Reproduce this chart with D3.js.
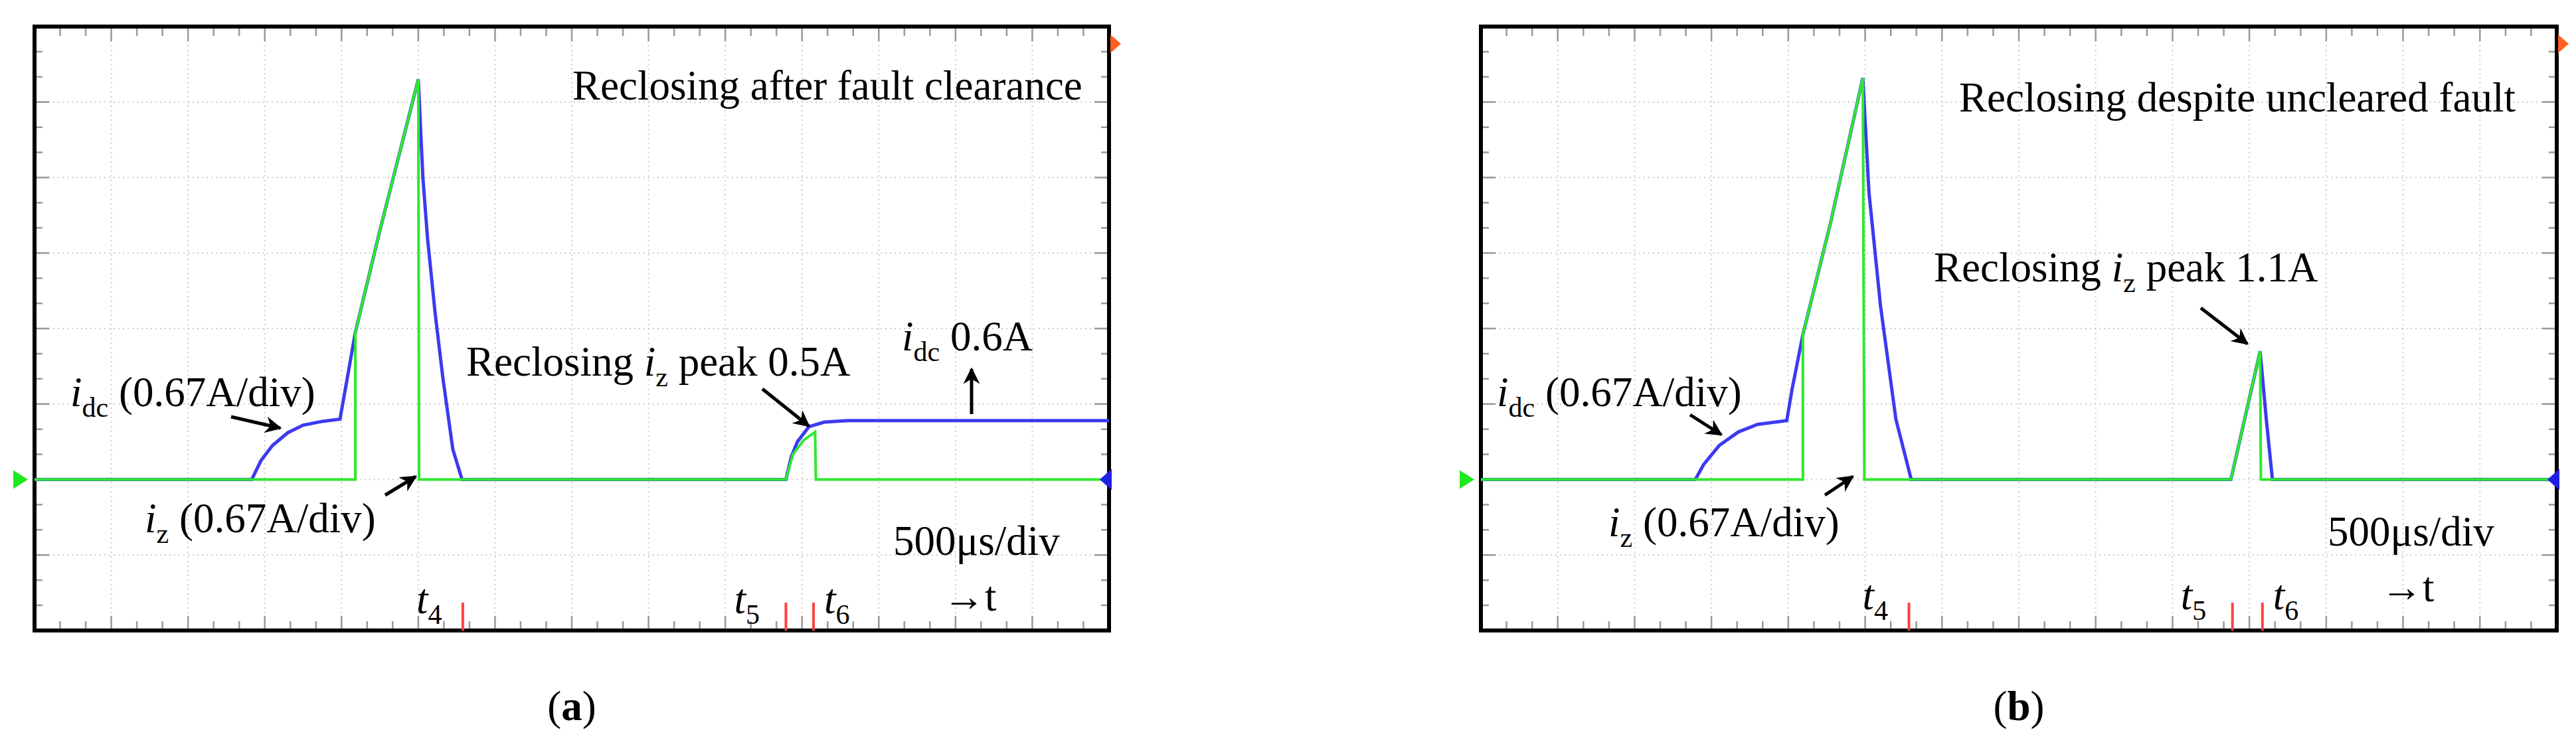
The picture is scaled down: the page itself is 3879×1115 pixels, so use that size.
<!DOCTYPE html>
<html><head><meta charset="utf-8">
<script src="https://cdn.jsdelivr.net/npm/d3@7/dist/d3.min.js"></script>
<style>body{margin:0;background:#fff}svg{display:block}text{font-family:"Liberation Serif","Times New Roman",serif;fill:#000}</style>
</head><body>
<svg id="c" width="3879" height="1115"></svg>
<script>
// time in divisions (500us/div), value in divisions (0.67A/div)
const idcA = [[0,0],[2.83,0],[2.95,0.25],[3.1,0.45],[3.3,0.62],[3.5,0.72],[3.75,0.77],[3.98,0.8],[4.05,1.2],[4.18,1.95],[4.5,3.3],[5.0,5.3],[5.06,4.0],[5.12,3.2],[5.22,2.2],[5.32,1.35],[5.45,0.4],[5.57,0],[9.79,0],[9.86,0.3],[9.94,0.5],[10.09,0.7],[10.29,0.76],[10.6,0.78],[14,0.78]];
const izA  = [[0,0],[4.18,0],[4.18,1.95],[4.5,3.3],[5.0,5.3],[5.01,0],[9.79,0],[9.88,0.33],[10.02,0.52],[10.17,0.63],[10.18,0],[14,0]];
const idcB = [[0,0],[2.79,0],[2.9,0.2],[3.1,0.45],[3.35,0.63],[3.6,0.73],[3.98,0.78],[4.05,1.2],[4.19,1.92],[4.55,3.4],[4.97,5.32],[5.05,3.8],[5.2,2.3],[5.4,0.8],[5.6,0],[9.76,0],[10.14,1.7],[10.22,0.8],[10.3,0],[14,0]];
const izB  = [[0,0],[4.19,0],[4.19,1.92],[4.55,3.4],[4.97,5.32],[4.99,0],[9.76,0],[10.14,1.7],[10.15,0],[14,0]];
const markersA = [5.58, 9.79, 10.15];
const markersB = [5.57, 9.78, 10.17];
const markerLabels = ["4","5","6"];
const titles = ["Reclosing after fault clearance","Reclosing despite uncleared fault"];
const peakLabels = ["0.5A","1.1A"];
const panelLabels = ["a","b"];

const svg = d3.select("#c");
svg.append("defs").append("marker").attr("id","ah").attr("viewBox","0 0 10 10").attr("refX",9).attr("refY",5)
   .attr("markerWidth",5).attr("markerHeight",5).attr("orient","auto")
   .append("path").attr("d","M0,0L10,5L0,10L3,5z").attr("fill","#000");

function panel(cfg){
  const x = d3.scaleLinear().domain([0,14]).range([cfg.left,cfg.right]);
  const y = d3.scaleLinear().domain([-2,6]).range([950,40]);
  const g = svg.append("g");
  for(let i=1;i<14;i++) g.append("line").attr("x1",x(i)).attr("x2",x(i)).attr("y1",y(6)).attr("y2",y(-2)).attr("stroke","#ccc").attr("stroke-width",2).attr("stroke-dasharray","2,5");
  for(let j=-1;j<6;j++) g.append("line").attr("x1",x(0)).attr("x2",x(14)).attr("y1",y(j)).attr("y2",y(j)).attr("stroke","#ccc").attr("stroke-width",2).attr("stroke-dasharray","2,5");
  for(let k=1;k<42;k++){const t=k/3, L=(k%3==0)?22:14;
    g.append("line").attr("x1",x(t)).attr("x2",x(t)).attr("y1",y(6)).attr("y2",y(6)+L).attr("stroke","#999").attr("stroke-width",2.5);
    g.append("line").attr("x1",x(t)).attr("x2",x(t)).attr("y1",y(-2)).attr("y2",y(-2)-L).attr("stroke","#999").attr("stroke-width",2.5);}
  for(let k=1;k<24;k++){const v=-2+k/3, L=(k%3==0)?22:12;
    g.append("line").attr("y1",y(v)).attr("y2",y(v)).attr("x1",x(0)).attr("x2",x(0)+L).attr("stroke","#999").attr("stroke-width",2.5);
    g.append("line").attr("y1",y(v)).attr("y2",y(v)).attr("x1",x(14)).attr("x2",x(14)-L).attr("stroke","#999").attr("stroke-width",2.5);}
  g.append("rect").attr("x",x(0)).attr("y",y(6)).attr("width",x(14)-x(0)).attr("height",y(-2)-y(6)).attr("fill","none").attr("stroke","#000").attr("stroke-width",6);
  const line = d3.line().x(d=>x(d[0])).y(d=>y(d[1]));
  g.append("path").attr("d",line(cfg.idc)).attr("fill","none").attr("stroke","#3b3bf0").attr("stroke-width",5);
  g.append("path").attr("d",line(cfg.iz)).attr("fill","none").attr("stroke","#2ee82e").attr("stroke-width",4);
  cfg.markers.forEach(m=>g.append("line").attr("x1",x(m)).attr("x2",x(m)).attr("y1",y(-2)).attr("y2",y(-2)-42).attr("stroke","#ff4040").attr("stroke-width",4));
  const y0=y(0);
  g.append("path").attr("d",`M${x(0)-32},${y0-14}L${x(0)-10},${y0}L${x(0)-32},${y0+14}z`).attr("fill","#1ee81e");
  g.append("path").attr("d",`M${x(14)+4},${y0-16}L${x(14)-14},${y0}L${x(14)+4},${y0+16}z`).attr("fill","#2020e0");
  g.append("path").attr("d",`M${x(14)+2},${y(6)+12}L${x(14)+18},${y(6)+26}L${x(14)+2},${y(6)+40}z`).attr("fill","#ff6020");
  const T=cfg.text, fs=63, sub=42;
  function lab(px,py,parts,anchor){
    const t=g.append("text").attr("x",px).attr("y",py).attr("font-size",fs);
    if(anchor) t.attr("text-anchor",anchor);
    parts.forEach(p=>{const s=t.append("tspan").text(p[0]);
      if(p[1]=="i") s.attr("font-style","italic");
      if(p[1]=="bold") s.attr("font-weight","bold");
      if(p[1]=="sub") s.attr("font-size",sub).attr("dy",16);
      if(p[1]=="back") s.attr("dy",-16);});
  }
  function arrow(x1,y1,x2,y2){g.append("line").attr("x1",x1).attr("y1",y1).attr("x2",x2).attr("y2",y2).attr("stroke","#000").attr("stroke-width",5).attr("marker-end","url(#ah)");}
  lab(T.title[0],T.title[1],[[cfg.title]]);
  lab(T.idc[0],T.idc[1],[["i","i"],["dc","sub"],[" (0.67A/div)","back"]]);
  arrow(...T.idcA);
  lab(T.iz[0],T.iz[1],[["i","i"],["z","sub"],[" (0.67A/div)","back"]]);
  arrow(...T.izA);
  lab(T.peak[0],T.peak[1],[["Reclosing "],["i","i"],["z","sub"],[" peak "+cfg.peak,"back"]]);
  arrow(...T.peakA);
  if(T.idc2){lab(T.idc2[0],T.idc2[1],[["i","i"],["dc","sub"],[" 0.6A","back"]]); arrow(...T.idc2A);}
  lab(T.div[0],T.div[1],[["500μs/div"]]);
  cfg.markers.forEach((m,i)=>{
    const px = i==0 ? x(m)-70 : (i==1 ? x(m)-78 : x(m)+16);
    lab(px,T.ty,[["t","i"],[markerLabels[i],"sub"]]);
  });
  lab(T.tarr[0],T.tarr[1],[["→t"]]);
  lab((cfg.left+cfg.right)/2,1085,[["("],[cfg.label,"bold"],[")"]],"middle");
}

panel({left:52,right:1670,idc:idcA,iz:izA,markers:markersA,title:titles[0],peak:peakLabels[0],label:panelLabels[0],
  text:{title:[862,150],idc:[106,612],idcA:[348,628,422,645],iz:[218,802],izA:[580,746,626,718],
    peak:[702,566],peakA:[1148,586,1218,642],idc2:[1358,528],idc2A:[1463,624,1463,556],div:[1345,836],ty:924,tarr:[1420,920]}});
panel({left:2230,right:3850,idc:idcB,iz:izB,markers:markersB,title:titles[1],peak:peakLabels[1],label:panelLabels[1],
  text:{title:[2950,168],idc:[2254,612],idcA:[2545,625,2592,655],iz:[2422,808],izA:[2748,746,2790,718],
    peak:[2912,424],peakA:[3314,464,3384,518],div:[3505,822],ty:918,tarr:[3585,906]}});
</script>
</body></html>
